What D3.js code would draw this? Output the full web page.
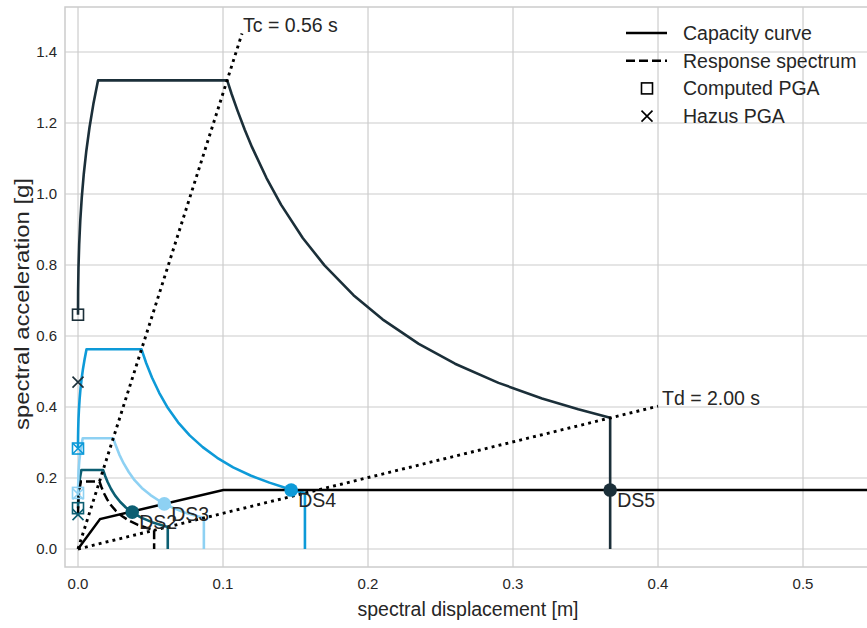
<!DOCTYPE html>
<html>
<head>
<meta charset="utf-8">
<script src="https://cdn.jsdelivr.net/npm/d3@7"></script>
<style>
  body { margin: 0; background: #fff; }
  text { font-family: "Liberation Sans", Arial, sans-serif; fill: #262626; }
</style>
</head>
<body>
<svg id="chart"></svg>
<script>
const WIDTH = 867;
const HEIGHT = 628;

// damage states, spectra as [Sd (m), Sa (g)]
const dsNames = ["DS2", "DS3", "DS4", "DS5"];
const ds2Spectrum = [[0, 0.115], [0.00026, 0.156], [0.00067, 0.178], [0.00134, 0.2], [0.00232, 0.2225],
  [0.0173, 0.2225], [0.0188, 0.205], [0.0205, 0.188], [0.0228, 0.169], [0.0255, 0.151], [0.029, 0.133],
  [0.033, 0.117], [0.038, 0.101], [0.044, 0.0876], [0.051, 0.0756], [0.0619, 0.0623], [0.0619, 0]];
const ds3Spectrum = [[0, 0.158], [0.00037, 0.218], [0.00094, 0.25], [0.00188, 0.281], [0.00326, 0.312],
  [0.0243, 0.312], [0.026, 0.292], [0.0285, 0.266], [0.0315, 0.241], [0.035, 0.217], [0.039, 0.194],
  [0.044, 0.172], [0.05, 0.152], [0.057, 0.133], [0.065, 0.117], [0.074, 0.102], [0.0868, 0.0873], [0.0868, 0]];
const ds4Spectrum = [[0, 0.283], [0.00003, 0.311], [0.00014, 0.338], [0.00034, 0.367], [0.00066, 0.394],
  [0.0011, 0.422], [0.00169, 0.45], [0.00244, 0.478], [0.00338, 0.506], [0.00452, 0.534],
  [0.00587, 0.5625], [0.0438, 0.5625], [0.047, 0.524], [0.051, 0.483], [0.056, 0.44], [0.062, 0.397],
  [0.069, 0.357], [0.077, 0.32], [0.086, 0.287], [0.096, 0.257], [0.107, 0.23], [0.119, 0.207],
  [0.132, 0.187], [0.145, 0.17], [0.1565, 0.1574], [0.1565, 0]];
const ds5Spectrum = [[0, 0.66], [0.000076, 0.726], [0.00033, 0.792], [0.00081, 0.858], [0.00155, 0.924],
  [0.00259, 0.99], [0.00397, 1.056], [0.00575, 1.122], [0.00795, 1.188], [0.01062, 1.254],
  [0.0138, 1.32], [0.1029, 1.32], [0.106, 1.281], [0.11, 1.235], [0.115, 1.181], [0.12, 1.132],
  [0.13, 1.045], [0.14, 0.97], [0.155, 0.876], [0.17, 0.799], [0.19, 0.715], [0.21, 0.647],
  [0.235, 0.578], [0.26, 0.522], [0.29, 0.468], [0.32, 0.424], [0.345, 0.394], [0.367, 0.37], [0.367, 0]];
const computedPGA = [0.115, 0.158, 0.283, 0.66];
const hazusPGA = [0.097, 0.155, 0.283, 0.47];
const dsPoints = [[0.0374, 0.104], [0.0595, 0.127], [0.147, 0.166], [0.367, 0.166]];

// capacity curve and demand response spectrum
const capacityCurve = [[0, 0], [0.0152, 0.0845], [0.1002, 0.166], [0.6, 0.166]];
const responseSpectrum = [[0, 0.095], [0.00022, 0.133], [0.00057, 0.152], [0.00114, 0.171], [0.00198, 0.19],
  [0.0148, 0.19], [0.016, 0.176], [0.0178, 0.158], [0.02, 0.1405], [0.0228, 0.123], [0.026, 0.108],
  [0.03, 0.0937], [0.035, 0.0803], [0.041, 0.0685], [0.047, 0.0598], [0.0525, 0.0535], [0.0525, 0]];

// corner period lines
const tcLine = [[0, 0], [0.1131, 1.452]];
const tdLine = [[0, 0], [0.4, 0.4024]];
const tcLabel = "Tc = 0.56 s";
const tdLabel = "Td = 2.00 s";

const xTicks = [0, 0.1, 0.2, 0.3, 0.4, 0.5];
const yTicks = [0, 0.2, 0.4, 0.6, 0.8, 1.0, 1.2, 1.4];
const legendLabels = ["Capacity curve", "Response spectrum", "Computed PGA", "Hazus PGA"];

const dsColors = ["#0b5e72", "#8ed1f3", "#0d9ad8", "#1b2f39"];
const spectra = [ds2Spectrum, ds3Spectrum, ds4Spectrum, ds5Spectrum];

const margin = { left: 65, top: 7, right: -3, bottom: 61 };

const svg = d3.select("#chart")
  .attr("width", WIDTH)
  .attr("height", HEIGHT);

const xScale = d3.scaleLinear().domain([-0.00897, 0.5462]).range([margin.left, WIDTH - margin.right]);
const yScale = d3.scaleLinear().domain([-0.0507, 1.5268]).range([HEIGHT - margin.bottom, margin.top]);

const line = d3.line()
  .x(d => xScale(d[0]))
  .y(d => yScale(d[1]));

svg.append("defs").append("clipPath").attr("id", "clip")
  .append("rect")
  .attr("x", margin.left).attr("y", margin.top)
  .attr("width", WIDTH - margin.left - margin.right)
  .attr("height", HEIGHT - margin.top - margin.bottom);

// grid
const grid = svg.append("g");
xTicks.forEach(t => {
  grid.append("line")
    .attr("x1", xScale(t)).attr("x2", xScale(t))
    .attr("y1", margin.top).attr("y2", HEIGHT - margin.bottom)
    .attr("stroke", "#cccccc").attr("stroke-width", 1.2);
});
yTicks.forEach(t => {
  grid.append("line")
    .attr("x1", margin.left).attr("x2", WIDTH - margin.right)
    .attr("y1", yScale(t)).attr("y2", yScale(t))
    .attr("stroke", "#cccccc").attr("stroke-width", 1.2);
});

// spines
svg.append("rect")
  .attr("x", margin.left).attr("y", margin.top)
  .attr("width", WIDTH - margin.left - margin.right)
  .attr("height", HEIGHT - margin.top - margin.bottom)
  .attr("fill", "none").attr("stroke", "#cccccc").attr("stroke-width", 1.5);

// tick labels
svg.append("g").selectAll("text").data(xTicks).join("text")
  .attr("x", d => xScale(d)).attr("y", HEIGHT - margin.bottom + 22)
  .attr("text-anchor", "middle").style("font-size", "15px")
  .text(d => d.toFixed(1));
svg.append("g").selectAll("text").data(yTicks).join("text")
  .attr("x", margin.left - 8).attr("y", d => yScale(d) + 5)
  .attr("text-anchor", "end").style("font-size", "15px")
  .text(d => d.toFixed(1));

svg.append("text")
  .attr("x", (margin.left + 867) / 2 + 2).attr("y", 616)
  .attr("text-anchor", "middle").style("font-size", "19.5px")
  .text("spectral displacement [m]");
svg.append("text")
  .attr("transform", "translate(29,304) rotate(-90)")
  .attr("text-anchor", "middle").style("font-size", "20.5px")
  .attr("textLength", 252).attr("lengthAdjust", "spacingAndGlyphs")
  .text("spectral acceleration [g]");

const plot = svg.append("g").attr("clip-path", "url(#clip)");

// damage-state spectra
spectra.forEach((s, i) => {
  plot.append("path")
    .datum(s)
    .attr("fill", "none")
    .attr("stroke", dsColors[i])
    .attr("stroke-width", 2.6)
    .attr("stroke-linejoin", "round")
    .attr("d", line);
});

plot.append("path")
  .datum(capacityCurve)
  .attr("fill", "none").attr("stroke", "#000").attr("stroke-width", 2.5)
  .attr("d", line);

plot.append("path")
  .datum(responseSpectrum)
  .attr("fill", "none").attr("stroke", "#000").attr("stroke-width", 2.5)
  .attr("stroke-dasharray", "9 4")
  .attr("d", line);

[tcLine, tdLine].forEach(l => {
  plot.append("path")
    .datum(l)
    .attr("fill", "none").attr("stroke", "#000").attr("stroke-width", 2.9)
    .attr("stroke-dasharray", "2.9 4.2")
    .attr("d", line);
});

svg.append("text")
  .attr("x", xScale(tcLine[1][0]) + 1).attr("y", yScale(tcLine[1][1]) - 2)
  .style("font-size", "19.5px").text(tcLabel);
svg.append("text")
  .attr("x", xScale(tdLine[1][0]) + 4).attr("y", yScale(tdLine[1][1]) - 1)
  .style("font-size", "19.5px").text(tdLabel);

// PGA markers
const SQ = 11;
computedPGA.forEach((v, i) => {
  plot.append("rect")
    .attr("x", xScale(0) - SQ / 2).attr("y", yScale(v) - SQ / 2)
    .attr("width", SQ).attr("height", SQ)
    .attr("fill", "none").attr("stroke", dsColors[i]).attr("stroke-width", 1.6);
});
const XS = 5.5;
hazusPGA.forEach((v, i) => {
  const cx = xScale(0), cy = yScale(v);
  plot.append("path")
    .attr("d", `M${cx - XS},${cy - XS}L${cx + XS},${cy + XS}M${cx - XS},${cy + XS}L${cx + XS},${cy - XS}`)
    .attr("stroke", dsColors[i]).attr("stroke-width", 1.6);
});

// performance points
dsPoints.forEach((p, i) => {
  plot.append("circle")
    .attr("cx", xScale(p[0])).attr("cy", yScale(p[1])).attr("r", 6.8)
    .attr("fill", dsColors[i]);
});
dsPoints.forEach((p, i) => {
  svg.append("text")
    .attr("x", xScale(p[0]) + 7).attr("y", yScale(p[1]) + 17)
    .style("font-size", "19.5px")
    .text(dsNames[i]);
});

// legend
const legend = svg.append("g").attr("transform", "translate(626,33)");
legendLabels.forEach((lab, i) => {
  const y = i * 27.7;
  if (i < 2) {
    legend.append("line")
      .attr("x1", 0).attr("x2", 41).attr("y1", y).attr("y2", y)
      .attr("stroke", "#000").attr("stroke-width", 2.5)
      .attr("stroke-dasharray", i === 1 ? "9 4" : null);
  } else if (i === 2) {
    legend.append("rect")
      .attr("x", 21 - SQ / 2).attr("y", y - SQ / 2).attr("width", SQ).attr("height", SQ)
      .attr("fill", "none").attr("stroke", "#000").attr("stroke-width", 1.6);
  } else {
    legend.append("path")
      .attr("d", `M${21 - XS},${y - XS}L${21 + XS},${y + XS}M${21 - XS},${y + XS}L${21 + XS},${y - XS}`)
      .attr("stroke", "#000").attr("stroke-width", 1.6);
  }
  legend.append("text")
    .attr("x", 57).attr("y", y + 7)
    .style("font-size", "19.5px")
    .text(lab);
});
</script>
</body>
</html>
